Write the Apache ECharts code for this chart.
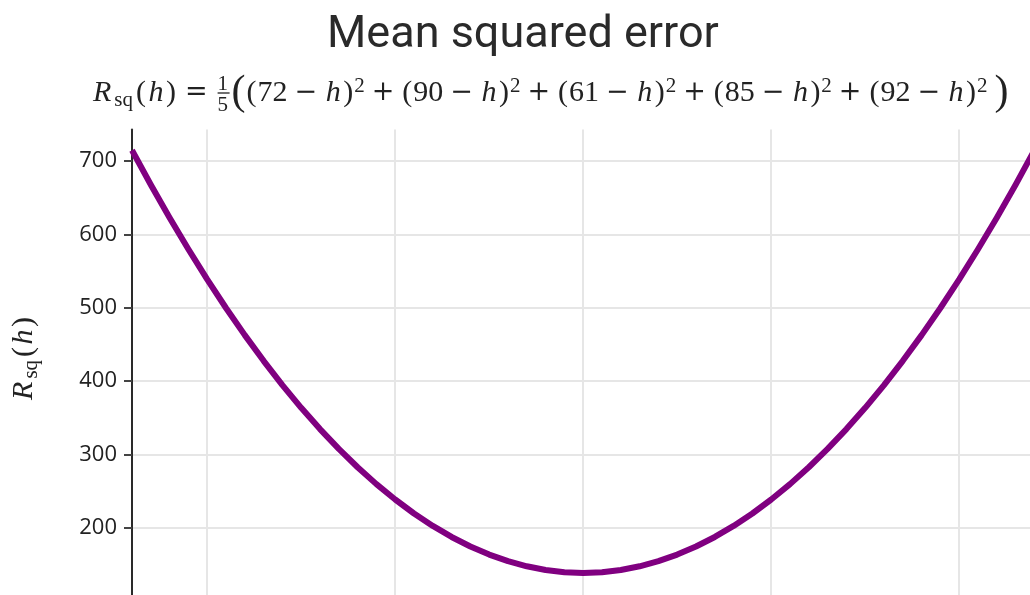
<!DOCTYPE html>
<html>
<head>
<meta charset="utf-8">
<script src="https://cdn.jsdelivr.net/npm/echarts@6/dist/echarts.min.js"></script>
<style>
  html, body { margin: 0; padding: 0; background: #ffffff; }
  #chart { width: 1030px; height: 595px; }
</style>
</head>
<body>
<div id="chart"></div>
<script>
// Trial values of h and the mean squared error R_sq(h) at each of them
const hValues = [56, 57, 58, 59, 60, 61, 62, 63, 64, 65, 66, 67, 68, 69, 70, 71, 72, 73, 74, 75, 76, 77, 78, 79, 80,
                 81, 82, 83, 84, 85, 86, 87, 88, 89, 90, 91, 92, 93, 94, 95, 96, 97, 98, 99, 100, 101, 102, 103, 104];
const rsqValues = [714.8, 667.8, 622.8, 579.8, 538.8, 499.8, 462.8, 427.8, 394.8, 363.8, 334.8, 307.8, 282.8,
                   259.8, 238.8, 219.8, 202.8, 187.8, 174.8, 163.8, 154.8, 147.8, 142.8, 139.8, 138.8,
                   139.8, 142.8, 147.8, 154.8, 163.8, 174.8, 187.8, 202.8, 219.8, 238.8, 259.8, 282.8,
                   307.8, 334.8, 363.8, 394.8, 427.8, 462.8, 499.8, 538.8, 579.8, 622.8, 667.8, 714.8];
// Observations that appear in the formula
const observations = [72, 90, 61, 85, 92];
// Gridline / tick positions
const xTicks = [60, 70, 80, 90, 100];
const yTicks = [200, 300, 400, 500, 600, 700];

const SERIF = "'Liberation Serif', 'DejaVu Serif', serif";
const OPS = "'DejaVu Serif', serif";
const INK = '#222222';

// Rich-text styles for the math in the subtitle and the axis name
const mathRich = {
  R:    { fontFamily: SERIF, fontSize: 30, fontStyle: 'italic', color: INK, lineHeight: 44, padding: [0, 2, 0, 0] },
  rm:   { fontFamily: SERIF, fontSize: 30, color: INK, lineHeight: 44 },
  p:    { fontFamily: SERIF, fontSize: 30, color: INK, lineHeight: 44, padding: [0, 1, 0, 1] },
  it:   { fontFamily: SERIF, fontSize: 30, fontStyle: 'italic', color: INK, lineHeight: 44, padding: [0, 1.5, 0, 1.5] },
  sub:  { fontFamily: SERIF, fontSize: 21, color: INK, lineHeight: 44, height: 29, verticalAlign: 'bottom', padding: [0, 2, 0, 1] },
  sup:  { fontFamily: SERIF, fontSize: 21, color: INK, lineHeight: 44, height: 31, verticalAlign: 'top' },
  eq:   { fontFamily: OPS, fontSize: 27, color: INK, lineHeight: 44, padding: [0, 8, 0, 8] },
  op:   { fontFamily: OPS, fontSize: 27, color: INK, lineHeight: 44, padding: [0, 7, 0, 7] },
  fn:   { fontFamily: SERIF, fontSize: 21, color: INK, lineHeight: 44, width: 0, height: 26, verticalAlign: 'top' },
  fd:   { fontFamily: SERIF, fontSize: 21, color: INK, lineHeight: 44, width: 0, height: 20, verticalAlign: 'bottom' },
  fb:   { fontFamily: SERIF, fontSize: 10, color: INK, lineHeight: 44, width: 12, height: 1.3, backgroundColor: INK, verticalAlign: 'middle' },
  gap:  { fontFamily: SERIF, fontSize: 10, lineHeight: 44, width: 2 },
  gap2: { fontFamily: SERIF, fontSize: 10, lineHeight: 44, width: 7 },
  big:  { fontFamily: SERIF, fontSize: 42, color: INK, lineHeight: 44 }
};

// R_sq(h) = 1/5 ( (72 - h)^2 + ... )
let formula = '{R|R}{sub|sq}{p|(}{it|h}{p|)}{eq|=}{gap| }{fn|1}{fd|5}{fb| }{gap| }{big|(}';
observations.forEach(function (v, i) {
  formula += '{p|(}{rm|' + v + '}{op|\u2212}{it|h}{p|)}{sup|2}';
  if (i < observations.length - 1) formula += '{op|+}';
});
formula += '{gap2| }{big|)}';

const chart = echarts.init(document.getElementById('chart'), null, { renderer: 'canvas' });

chart.setOption({
  backgroundColor: '#ffffff',
  animation: false,
  title: [
    {
      text: 'Mean squared error',
      left: 327, top: 13, padding: 0,
      textStyle: { fontFamily: 'Roboto, sans-serif', fontSize: 45, fontWeight: 'normal', color: '#2a2a2a' }
    },
    {
      text: formula,
      left: 93, top: 71, padding: 0,
      textStyle: { fontFamily: SERIF, fontSize: 30, fontWeight: 'normal', color: INK, lineHeight: 44, rich: mathRich }
    }
  ],
  grid: {
    left: 132, right: -4.4, top: 129.5, bottom: -6.4,
    containLabel: false,
    outerBoundsMode: 'none'
  },
  xAxis: {
    type: 'value',
    min: 56, max: 104,
    axisLine: { show: false },
    axisTick: { show: false, customValues: xTicks },
    axisLabel: { show: false, customValues: xTicks },
    splitLine: { show: true, lineStyle: { color: '#e6e6e6', width: 2 } }
  },
  yAxis: {
    type: 'value',
    min: 100, max: 743,
    name: '{R|R}{sub|sq}{p|(}{it|h}{p|)}',
    nameLocation: 'middle',
    nameRotate: 90,
    nameGap: 86,
    nameTextStyle: { fontFamily: SERIF, fontSize: 30, color: INK, lineHeight: 44, rich: mathRich, padding: [0, 0, 0, 15] },
    axisLine: { show: true, lineStyle: { color: '#2a2a2a', width: 2 } },
    axisTick: { show: true, inside: false, length: 8, customValues: yTicks, lineStyle: { color: '#444444', width: 2 } },
    axisLabel: {
      show: true, margin: 15, customValues: yTicks,
      fontFamily: "'Open Sans', sans-serif", fontSize: 22, color: '#222222',
      padding: [5, 0, 0, 0]
    },
    splitLine: { show: true, lineStyle: { color: '#e6e6e6', width: 2 } }
  },
  series: [{
    type: 'line',
    data: hValues.map(function (h, i) { return [h, rsqValues[i]]; }),
    showSymbol: false,
    smooth: false,
    lineStyle: { color: 'purple', width: 6, join: 'round' },
    itemStyle: { color: 'purple' },
    z: 3
  }]
});
</script>
</body>
</html>
